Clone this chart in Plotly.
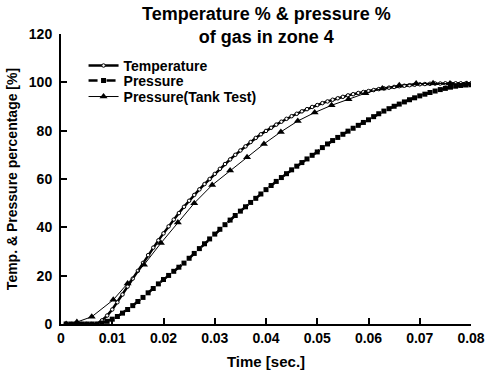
import plotly.graph_objects as go

# Sample times [s] for the simulated curves (1 ms steps)
time_sim = [0.001, 0.002, 0.003, 0.004, 0.005, 0.006, 0.007, 0.008, 0.009, 0.010,
            0.011, 0.012, 0.013, 0.014, 0.015, 0.016, 0.017, 0.018, 0.019, 0.020,
            0.021, 0.022, 0.023, 0.024, 0.025, 0.026, 0.027, 0.028, 0.029, 0.030,
            0.031, 0.032, 0.033, 0.034, 0.035, 0.036, 0.037, 0.038, 0.039, 0.040,
            0.041, 0.042, 0.043, 0.044, 0.045, 0.046, 0.047, 0.048, 0.049, 0.050,
            0.051, 0.052, 0.053, 0.054, 0.055, 0.056, 0.057, 0.058, 0.059, 0.060,
            0.061, 0.062, 0.063, 0.064, 0.065, 0.066, 0.067, 0.068, 0.069, 0.070,
            0.071, 0.072, 0.073, 0.074, 0.075, 0.076, 0.077, 0.078, 0.079, 0.080]

temperature = [0, 0, 0, 0, 0, 0, 0, 1.5, 3.5, 6.0,
               9.0, 12.2, 15.5, 18.8, 22.0, 25.3, 28.5, 31.6, 34.6, 37.5,
               40.4, 43.2, 45.9, 48.5, 51.0, 53.4, 55.7, 57.9, 60.0, 62.1,
               64.2, 66.2, 68.1, 70.0, 71.8, 73.5, 75.3, 77.0, 78.5, 79.9,
               81.2, 82.5, 83.7, 84.9, 86.0, 87.0, 88.0, 88.9, 89.8, 90.6,
               91.4, 92.1, 92.8, 93.4, 94.0, 94.6, 95.1, 95.6, 96.0, 96.4,
               96.8, 97.2, 97.5, 97.8, 98.1, 98.4, 98.6, 98.8, 99.0, 99.2,
               99.3, 99.4, 99.5, 99.5, 99.6, 99.6, 99.6, 99.6, 99.6, 99.6]

pressure = [0, 0, 0, 0, 0, 0, 0, 0.4, 1.1, 2.0,
            3.1, 4.5, 6.0, 7.6, 9.3, 11.0, 12.9, 14.7, 16.6, 18.4,
            20.1, 21.8, 23.5, 25.2, 27.2, 29.2, 31.2, 33.2, 35.2, 37.2,
            39.2, 41.1, 43.0, 44.9, 46.7, 48.5, 50.3, 52.0, 53.8, 55.6,
            57.3, 59.0, 60.6, 62.2, 63.8, 65.3, 66.8, 68.3, 69.8, 71.2,
            73.0, 74.5, 75.9, 77.2, 78.5, 79.8, 81.0, 82.2, 83.4, 84.5,
            85.8, 87.0, 88.1, 89.1, 90.1, 91.0, 91.9, 92.8, 93.6, 94.4,
            95.1, 95.8, 96.4, 97.0, 97.5, 98.0, 98.4, 98.7, 98.9, 99.0]

# Tank test measurements
time_tank = [0.001, 0.0031, 0.006, 0.0102, 0.013, 0.0162, 0.0195, 0.0228, 0.026,
             0.0295, 0.033, 0.0363, 0.0396, 0.0429, 0.0462, 0.0495, 0.0528,
             0.0561, 0.0594, 0.0627, 0.066, 0.0693, 0.0726, 0.0759, 0.0792]
pressure_tank = [0, 0.8, 3.0, 10.0, 16.8, 24.5, 33.5, 42.0, 50.0,
                 57.5, 63.5, 69.0, 74.5, 79.5, 84.0, 87.5, 90.5,
                 93.0, 95.5, 97.5, 98.8, 99.5, 99.6, 99.5, 99.3]

FONT = "Arial, Liberation Sans, sans-serif"
BOLD = dict(family=FONT, color="black", weight="bold")

fig = go.Figure()
fig.add_trace(go.Scatter(
    x=time_sim, y=temperature, name="Temperature", mode="lines+markers",
    line=dict(color="black", width=2.5),
    marker=dict(symbol="circle", size=3.5, color="white",
                line=dict(color="black", width=1)),
    legend="legend",
))
fig.add_trace(go.Scatter(
    x=time_sim, y=pressure, name="Pressure", mode="lines+markers",
    line=dict(color="black", width=2.5, dash="dash"),
    marker=dict(symbol="square", size=5, color="black"),
    legend="legend2",
))
fig.add_trace(go.Scatter(
    x=time_tank, y=pressure_tank, name="Pressure(Tank Test)", mode="lines+markers",
    line=dict(color="black", width=1),
    marker=dict(symbol="triangle-up", size=7, color="black"),
    legend="legend3",
))

# Two-line chart title placed above the plotting area
fig.add_annotation(
    text="Temperature % & pressure %<br>of gas in zone 4",
    xref="paper", yref="paper", x=0.5, y=1.03,
    xanchor="center", yanchor="middle", showarrow=False,
    font=dict(size=18, **BOLD),
)

# One legend per series so the rows sit close together
legend_style = dict(
    x=0.055, xanchor="left", yanchor="middle",
    bgcolor="rgba(0,0,0,0)", borderwidth=0,
    font=dict(size=14, **BOLD),
)

fig.update_layout(
    width=491, height=374,
    margin=dict(l=61, r=20, t=34, b=50, autoexpand=False),
    paper_bgcolor="white", plot_bgcolor="white",
    font=dict(family=FONT, color="black", size=12),
    legend=dict(y=0.890, **legend_style),
    legend2=dict(y=0.838, **legend_style),
    legend3=dict(y=0.783, **legend_style),
    showlegend=True,
)

fig.update_xaxes(
    range=[0, 0.08], dtick=0.01, tick0=0,
    showgrid=False, zeroline=False, automargin=False,
    showline=True, linecolor="black", linewidth=2,
    ticks="inside", ticklen=6, tickwidth=1.5, tickcolor="black",
    tickfont=dict(size=14, **BOLD),
    title=dict(text="Time [sec.]", standoff=12, font=dict(size=15, **BOLD)),
)
fig.update_yaxes(
    range=[0, 120], dtick=20, tick0=0,
    showgrid=False, zeroline=False, automargin=False,
    showline=True, linecolor="black", linewidth=2,
    ticks="inside", ticklen=6, tickwidth=1.5, tickcolor="black",
    tickfont=dict(size=14, **BOLD),
    ticklabelstandoff=4,
    title=dict(text="Temp. & Pressure percentage [%]", standoff=8,
               font=dict(size=14, **BOLD)),
)

fig.write_html("out.html")
